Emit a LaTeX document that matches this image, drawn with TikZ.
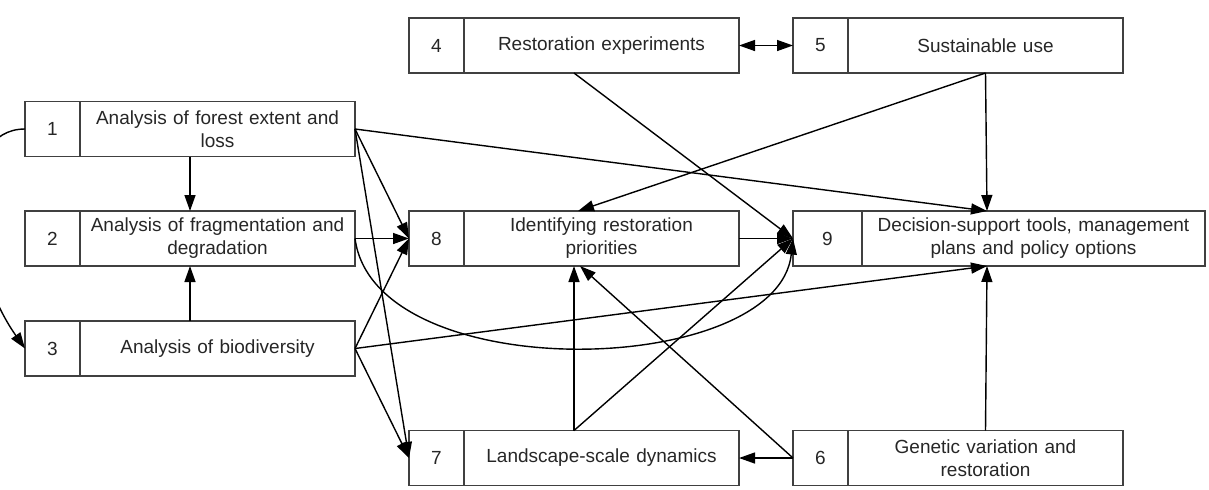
\documentclass[tikz,border=0pt]{standalone}
\usepackage{fontspec}
\setmainfont{Liberation Sans}
\usetikzlibrary{arrows.meta,positioning}

\tikzset{
	cell/.style={draw=black!75, line width=0.9pt, inner sep=0pt, outer sep=0pt,
		minimum height=27.5pt, text=black!85},
	numcell/.style={cell, minimum width=27.5pt},
	txtcell/.style={cell, minimum width=137.5pt, text width=133pt, align=center},
	link/.style={-{Triangle[length=8pt,width=5.5pt]}, line width=0.7pt},
}

\begin{document}
\begin{tikzpicture}[x=0.5pt, y=-0.5pt, font=\fontsize{9.5}{11.5}\selectfont]
	\useasboundingbox (0,0) rectangle (1209,489);

	% left column
	\node[numcell] (n1) at (52.5,129) {1};
	\node[txtcell, right=0pt of n1] (t1) {Analysis of forest extent and\\loss};
	\node[numcell] (n2) at (52.5,238.5) {2};
	\node[txtcell, right=0pt of n2] (t2) {Analysis of fragmentation and\\degradation};
	\node[numcell] (n3) at (52.5,348.5) {3};
	\node[txtcell, right=0pt of n3] (t3) {Analysis of biodiversity};

	% middle column
	\node[numcell] (n4) at (436.5,45.5) {4};
	\node[txtcell, right=0pt of n4] (t4) {Restoration experiments};
	\node[numcell] (n8) at (436.5,238.5) {8};
	\node[txtcell, right=0pt of n8] (t8) {Identifying restoration\\priorities};
	\node[numcell] (n7) at (436.5,458) {7};
	\node[txtcell, right=0pt of n7] (t7) {Landscape-scale dynamics};

	% right column
	\node[numcell] (n5) at (820.5,45.5) {5};
	\node[txtcell, right=0pt of n5] (t5) {Sustainable use};
	\node[numcell, minimum width=34.5pt] (n9) at (827.5,238.5) {9};
	\node[txtcell, right=0pt of n9, minimum width=171.5pt, text width=167pt] (t9) {Decision-support tools, management\\plans and policy options};
	\node[numcell] (n6) at (820.5,458) {6};
	\node[txtcell, right=0pt of n6] (t6) {Genetic variation and\\restoration};

	% links
	\draw[link] ([xshift=-13.75pt]t1.south) -- ([xshift=-13.75pt]t2.north);
	\draw[link] ([xshift=-13.75pt]t3.north) -- ([xshift=-13.75pt]t2.south);
	\draw[link] (n1.west) .. controls +(-70,0) and +(-60,-85) .. (n3.west);
	\draw[link] (t1.east) -- (n8.west);
	\draw[link] (t1.east) -- (n7.west);
	\draw[link] (t1.east) -- ([xshift=-23.25pt]t9.north);
	\draw[link] (t2.east) -- (n8.west);
	\draw[link] (t2.east) .. controls +(20,150) and +(-15,140) .. (n9.west);
	\draw[link] (t3.east) -- (n8.west);
	\draw[link] (t3.east) -- (n7.west);
	\draw[link] (t3.east) -- ([xshift=-23.25pt]t9.south);
	\draw[{Triangle[length=8pt,width=5.5pt]}-{Triangle[length=8pt,width=5.5pt]}, line width=0.7pt] (t4.east) -- (n5.west);
	\draw[link] ([xshift=-13.75pt]t4.south) -- (n9.west);
	\draw[link] (t5.south) -- ([xshift=-11.75pt]t8.north);
	\draw[link] (t5.south) -- ([xshift=-23.25pt]t9.north);
	\draw[link] (t8.east) -- (n9.west);
	\draw[link] ([xshift=-13.75pt]t7.north) -- ([xshift=-13.75pt]t8.south);
	\draw[link] ([xshift=-13.75pt]t7.north) -- (n9.west);
	\draw[link] (n6.west) -- (t7.east);
	\draw[link] (n6.west) -- ([xshift=-10.75pt]t8.south);
	\draw[link] (t6.north) -- ([xshift=-23.25pt]t9.south);
\end{tikzpicture}
\end{document}
